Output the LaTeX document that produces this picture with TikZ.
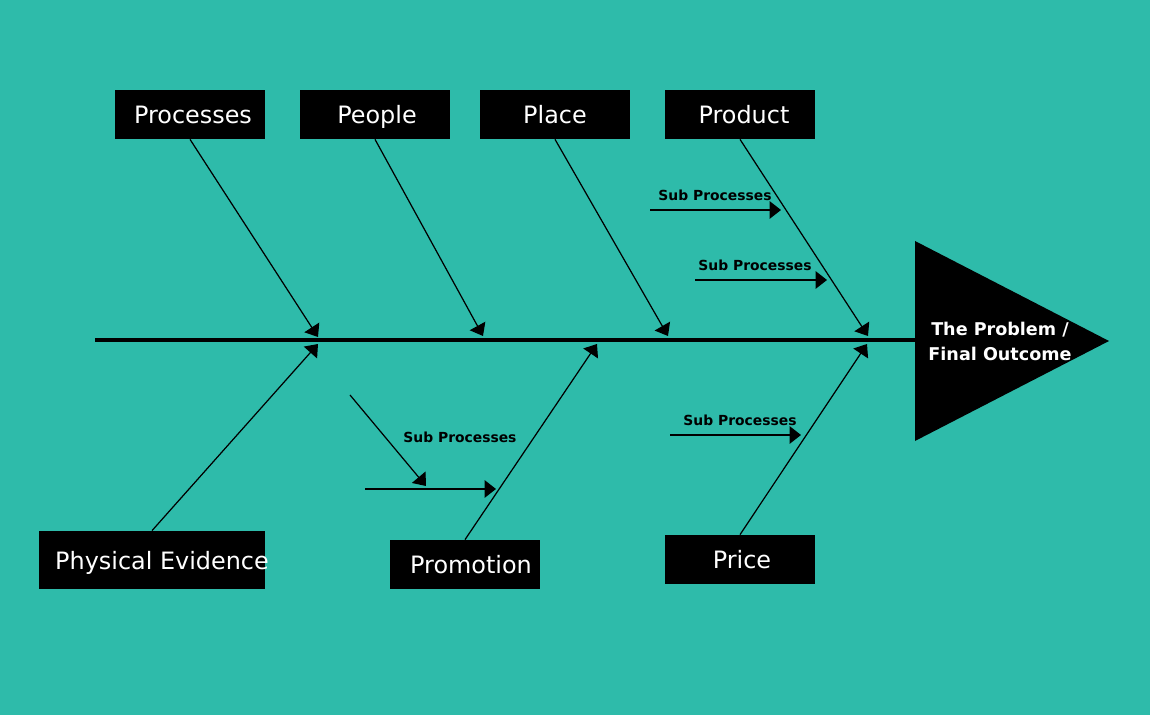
\documentclass[tikz,border=0pt]{standalone}
\usepackage{fontspec}
\setmainfont{DejaVu Sans}
\usetikzlibrary{arrows.meta}
\definecolor{bgteal}{HTML}{2EBBAA}
\tikzset{
  catbox/.style={fill=black,text=white,inner sep=0pt,minimum width=3cm,minimum height=0.98cm,text height=12pt,text depth=1.2pt,font=\fontsize{13.6}{16}\selectfont},
  bone/.style={line width=0.7pt,-{Triangle[length=6.5pt,width=10pt]}},
  sublbl/.style={font=\fontsize{7.9}{9.5}\selectfont\bfseries,inner sep=0pt}
}

\begin{document}
\begin{tikzpicture}[x=0.02cm,y=-0.02cm]
\fill[bgteal] (0,0) rectangle (1150,715);
\useasboundingbox (0,0) rectangle (1150,715);
% head and spine
\fill (915,241) -- (1109,341) -- (915,441) -- cycle;
\node[text=white,align=center,font=\fontsize{10}{14.2}\selectfont\bfseries] (head) at (1000,341) {The Problem /\\Final Outcome};
\coordinate (spineL) at (95,340);
\coordinate (spineR) at (915,340);
\draw[line width=2.8pt] (spineL)--(spineR);
% categories
\node[catbox] (proc) at (190,114.5) {\hspace*{0.12cm}Processes};
\node[catbox] (peop) at (375,114.5) {\hspace*{0.08cm}People};
\node[catbox] (plac) at (555,114.5) {Place};
\node[catbox] (prod) at (740,114.5) {\hspace*{0.16cm}Product};
\node[catbox,minimum width=4.52cm,minimum height=1.16cm] (phys) at (152,560) {\makebox[4.52cm]{\hspace*{0.4cm}Physical Evidence}};
\node[catbox] (prom) at (465,564.5) {\hspace*{0.24cm}Promotion};
\node[catbox] (pric) at (740,559.5) {\hspace*{0.08cm}Price};
% tips on the spine
\coordinate (tProc) at (318,337);
\coordinate (tPeop) at (483,336);
\coordinate (tPlac) at (668,336);
\coordinate (tProd) at (868,336);
\coordinate (tPhys) at (318,344);
\coordinate (tProm) at (597,344);
\coordinate (tPric) at (867,344);
\draw[bone] (proc.south)--(tProc);
\draw[bone] (peop.south)--(tPeop);
\draw[bone] (plac.south)--(tPlac);
\draw[bone] (prod.south)--(tProd);
\draw[bone] (phys.north)--(tPhys);
\draw[bone] (prom.north)--(tProm);
\draw[bone] (pric.north)--(tPric);
% sub processes
\coordinate (sA1) at (650,210); \coordinate (sA2) at (781,210);
\coordinate (sB1) at (695,280); \coordinate (sB2) at (827,280);
\coordinate (sC1) at (670,435); \coordinate (sC2) at (801,435);
\coordinate (sD1) at (365,489); \coordinate (sD2) at (496,489);
\coordinate (sE1) at (350,395); \coordinate (sE2) at (426,486);
\draw[bone] (sA1)--(sA2);
\draw[bone] (sB1)--(sB2);
\draw[bone] (sC1)--(sC2);
\draw[bone] (sD1)--(sD2);
\draw[bone] (sE1)--(sE2);
\node[sublbl] (lA) at (715,195) {Sub Processes};
\node[sublbl] (lB) at (755,265) {Sub Processes};
\node[sublbl] (lC) at (740,420) {Sub Processes};
\node[sublbl] (lD) at (460,437) {Sub Processes};
\end{tikzpicture}
\end{document}
